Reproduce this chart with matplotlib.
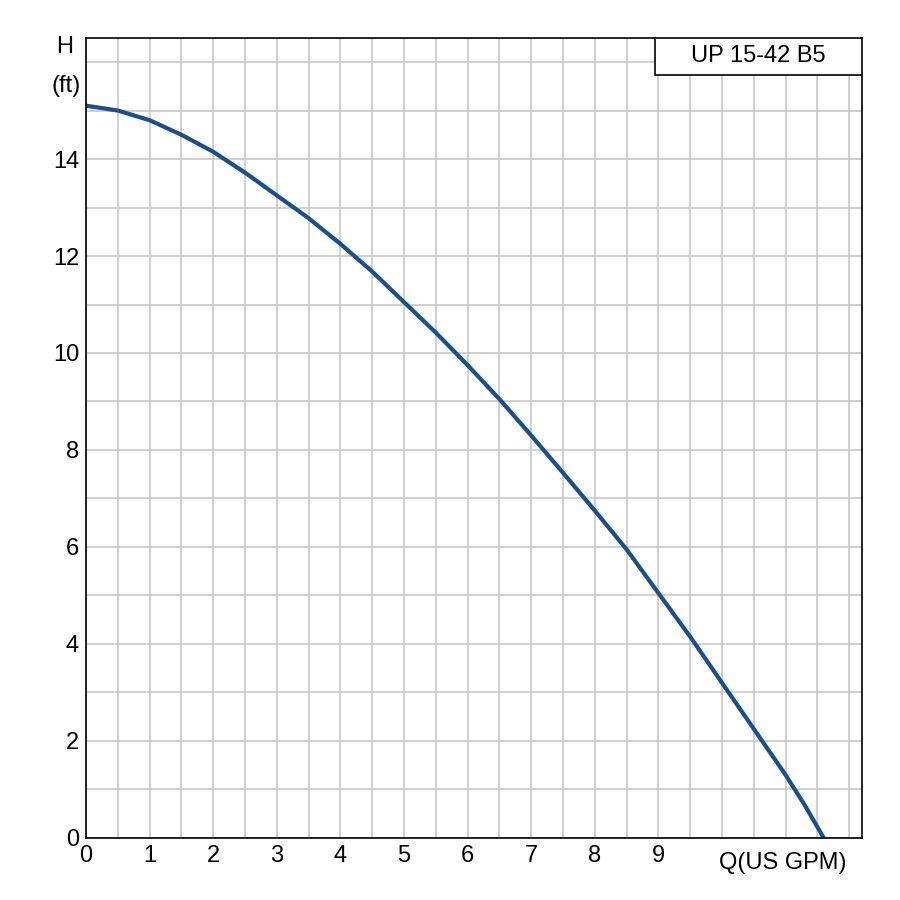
import numpy as np
import matplotlib
matplotlib.use('Agg')
from matplotlib import pyplot as plt
from matplotlib.patches import Rectangle

plt.rcParams['font.family'] = ['Liberation Sans', 'DejaVu Sans']

# curve
q = [0, 0.5, 1, 1.5, 2, 2.5, 3, 3.5, 4, 4.5, 5, 5.5, 6, 6.5, 7, 7.5, 8, 8.5, 9, 9.5, 10, 10.5, 11, 11.3, 11.6]
h = [15.1, 15.0, 14.8, 14.5, 14.15, 13.72, 13.25, 12.78, 12.25, 11.68, 11.05, 10.42, 9.75, 9.05, 8.3, 7.53, 6.75, 5.95, 5.05, 4.15, 3.2, 2.25, 1.3, 0.68, 0.0]
xticks = list(range(10))
yticks = [0, 2, 4, 6, 8, 10, 12, 14]
title = 'UP 15-42 B5'

fig = plt.figure(figsize=(9, 9), dpi=100)
ax = fig.add_axes([0.0956, 0.069, 0.862, 0.889])
ax.set_xlim(0, 12.2)
ax.set_ylim(0, 16.5)
ax.set_xticks(np.arange(0, 12.2, 0.5), minor=True)
ax.set_yticks(np.arange(0, 16.6, 1), minor=True)
ax.set_xticks(xticks)
ax.set_yticks(yticks)
ax.grid(which='both', color='#c8c8c8', lw=1.2)
ax.set_axisbelow(True)
ax.tick_params(which='both', length=0, labelsize=17, pad=5)
for s in ax.spines.values():
    s.set_linewidth(1.2)

ax.plot(q, h, color='#1a4f8a', lw=3, solid_joinstyle='round', solid_capstyle='round')

ax.text(10.95, -0.3, 'Q(US GPM)', fontsize=17, ha='center', va='top')
ax.text(-0.2, 16.3, 'H', fontsize=17, ha='right', va='center', clip_on=False)
ax.text(-0.08, 15.5, '(ft)', fontsize=17, ha='right', va='center', clip_on=False)

ax.add_patch(Rectangle((0.733, 0.954), 0.267, 0.046, transform=ax.transAxes,
                       facecolor='white', edgecolor='black', lw=1.2, zorder=5))
ax.text(0.8665, 0.977, title, transform=ax.transAxes, fontsize=17,
        ha='center', va='center', zorder=6)

fig.savefig('out.png', dpi=100)
